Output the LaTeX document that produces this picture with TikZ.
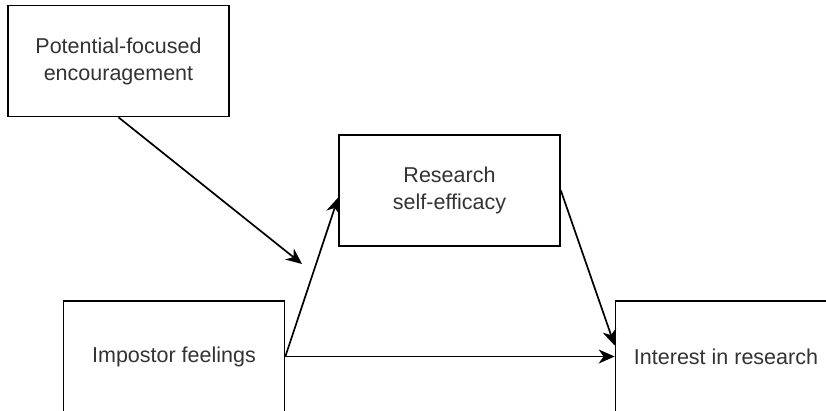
\documentclass[tikz,border=0pt]{standalone}
\usepackage{fontspec}
\setmainfont{Liberation Sans}
\usetikzlibrary{arrows.meta}
\definecolor{txt}{HTML}{333333}
\tikzset{
  box/.style={draw=black, line width=1.7pt, minimum width=221pt, minimum height=111pt,
    align=center, text=txt, font=\fontsize{21.5}{27}\selectfont, inner sep=0pt},
  arr/.style={draw=black, line width=1.7pt, -{Stealth[length=16pt,width=14pt,inset=5pt]}}
}
\begin{document}
\begin{tikzpicture}[x=1pt,y=-1pt]
\useasboundingbox (0,0) rectangle (826,410);
\clip (0,0) rectangle (826,410);
\fill[white] (0,0) rectangle (826,410);
\node[box] (pfe) at (118.5,61) {Potential-focused\\encouragement};
\node[box] (rse) at (449.5,190.5) {Research\\self-efficacy};
\node[box] (imp) at (174,356.5) {Impostor feelings};
\node[box] (int) at (726,356.5) {Interest in research};
\coordinate (mod) at (302,264);
\draw[arr] (pfe.south) -- (mod);
\draw[arr] (imp.east) -- ([yshift=-7pt]rse.west);
\draw[arr] (rse.east) -- ([yshift=11pt]int.west);
\draw[arr] (imp.east) -- (int.west);
\end{tikzpicture}
\end{document}
